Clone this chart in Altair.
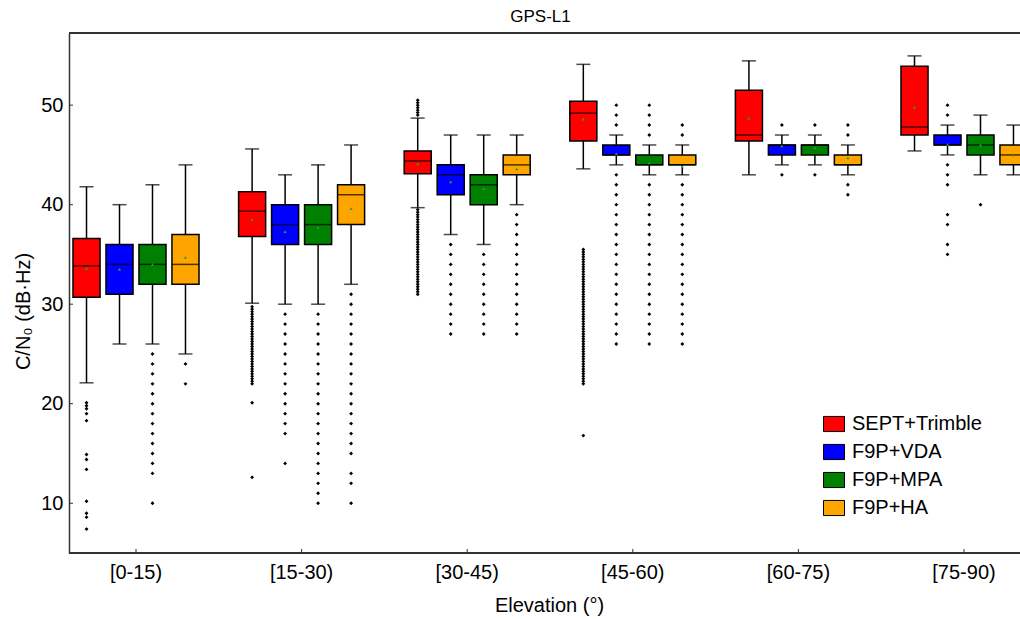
import altair as alt
import pandas as pd

elevations = ["[0-15)", "[15-30)", "[30-45)", "[45-60)", "[60-75)", "[75-90)"]
receivers = ["SEPT+Trimble", "F9P+VDA", "F9P+MPA", "F9P+HA"]
colors = ["#ff0000", "#0000ff", "#008000", "#ffa500"]

# per elevation bin, per receiver
whisker_low = [[22.1, 26, 26, 25], [30.1, 30, 30, 32], [39.7, 37, 36, 40],
               [43.6, 44, 43, 43], [43.0, 44, 44, 43], [45.4, 45, 43, 43]]
q1 = [[30.7, 31, 32, 32], [36.8, 36, 36, 38], [43.1, 41, 40, 43],
      [46.4, 45, 44, 44], [46.4, 45, 45, 44], [47.0, 46, 45, 44]]
median = [[33.85, 34, 34, 34], [39.35, 38, 38, 41], [44.4, 43, 42, 44],
          [49.2, 45, 44, 44], [47.0, 46, 46, 44], [47.8, 46, 46, 45]]
q3 = [[36.6, 36, 36, 37], [41.3, 40, 40, 42], [45.4, 44, 43, 45],
      [50.4, 46, 45, 45], [51.5, 46, 46, 45], [53.9, 47, 47, 46]]
whisker_high = [[41.8, 40, 42, 44], [45.6, 43, 44, 46], [48.7, 47, 47, 47],
                [54.1, 47, 46, 46], [54.45, 47, 47, 46], [54.95, 48, 49, 48]]
means = [[33.6, 33.5, 34.0, 34.7], [38.5, 37.3, 37.7, 39.6], [44.1, 42.3, 41.6, 43.6],
         [48.6, 45.1, 44.2, 43.8], [48.7, 45.9, 45.7, 44.7], [49.8, 46.05, 46.0, 45.0]]

outliers = [
    [  # [0-15)
        [20.1, 19.8, 19.5, 19.0, 18.3, 14.9, 14.4, 13.4, 10.2, 9.0, 8.6, 7.4],
        [],
        [25, 24, 23, 22, 21, 20, 19, 18, 17, 16, 15, 14, 13, 10],
        [24, 22],
    ],
    [  # [15-30)
        [29.75, 29.5, 29.25, 29.0, 28.75, 28.5, 28.25, 28.0, 27.75, 27.5, 27.25, 27.0,
         26.75, 26.5, 26.25, 26.0, 25.75, 25.5, 25.25, 25.0, 24.75, 24.5, 24.25, 24.0,
         23.75, 23.5, 23.25, 23.0, 22.75, 22.5, 22.25, 22.0, 20.1, 12.6],
        [29, 28, 27, 26, 25, 24, 23, 22, 21, 20, 19, 18, 17, 14],
        [29, 28, 27, 26, 25, 24, 23, 22, 21, 20, 19, 18, 17, 16, 15, 14, 13, 12, 11, 10],
        [31, 30, 29, 28, 27, 26, 25, 24, 23, 22, 21, 20, 19, 18, 17, 16, 15, 13, 12, 10],
    ],
    [  # [30-45)
        [49.0, 49.25, 49.5, 49.75, 50.0, 50.25, 50.5,
         39.5, 39.25, 39.0, 38.75, 38.5, 38.25, 38.0, 37.75, 37.5, 37.25, 37.0, 36.75,
         36.5, 36.25, 36.0, 35.75, 35.5, 35.25, 35.0, 34.75, 34.5, 34.25, 34.0, 33.75,
         33.5, 33.25, 33.0, 32.75, 32.5, 32.25, 32.0, 31.75, 31.5, 31.25, 31.0],
        [36, 35, 34, 33, 32, 31, 30, 29, 28, 27],
        [35, 34, 33, 32, 31, 30, 29, 28, 27],
        [39, 38, 37, 36, 35, 34, 33, 32, 31, 30, 29, 28, 27],
    ],
    [  # [45-60)
        [35.5, 35.25, 35.0, 34.75, 34.5, 34.25, 34.0, 33.75, 33.5, 33.25, 33.0, 32.75,
         32.5, 32.25, 32.0, 31.75, 31.5, 31.25, 31.0, 30.75, 30.5, 30.25, 30.0, 29.75,
         29.5, 29.25, 29.0, 28.75, 28.5, 28.25, 28.0, 27.75, 27.5, 27.25, 27.0, 26.75,
         26.5, 26.25, 26.0, 25.75, 25.5, 25.25, 25.0, 24.75, 24.5, 24.25, 24.0, 23.75,
         23.5, 23.25, 23.0, 22.75, 22.5, 22.25, 22.0, 16.8],
        [50, 49, 48, 43, 42, 41, 40, 39, 38, 37, 36, 35, 34, 33, 32, 31, 30, 29, 28, 27, 26],
        [50, 49, 48, 47, 42, 41, 40, 39, 38, 37, 36, 35, 34, 33, 32, 31, 30, 29, 28, 27, 26],
        [48, 47, 42, 41, 40, 39, 38, 37, 36, 35, 34, 33, 32, 31, 30, 29, 28, 27, 26],
    ],
    [  # [60-75)
        [],
        [48, 43],
        [48, 43],
        [48, 47, 42, 41],
    ],
    [  # [75-90)
        [],
        [50, 49, 44, 43, 42, 39, 38, 36, 35],
        [40],
        [],
    ],
]

y_ticks = [10, 20, 30, 40, 50]

box_rows, out_rows = [], []
for i, e in enumerate(elevations):
    for j, r in enumerate(receivers):
        box_rows.append(dict(elev=e, rec=r, lo=whisker_low[i][j], q1=q1[i][j],
                             med=median[i][j], q3=q3[i][j], hi=whisker_high[i][j],
                             mean=means[i][j]))
        for v in outliers[i][j]:
            out_rows.append(dict(elev=e, rec=r, v=v))
box_df = pd.DataFrame(box_rows)
out_df = pd.DataFrame(out_rows)
tick_df = pd.DataFrame({"t": y_ticks})
elev_df = pd.DataFrame({"elev": elevations})

W, H = 951, 520
FONT = "Liberation Sans"
AX = "#333333"

xscale = alt.Scale(domain=elevations, range=[-15.8, 977.8], paddingInner=0, paddingOuter=0)
x_enc = alt.X("elev:N", scale=xscale, sort=elevations,
              axis=alt.Axis(title="Elevation (°)", labelAngle=0, domain=False, ticks=False,
                            tickSize=0, labelPadding=9, labelFontSize=20, titleFontSize=20,
                            titleFontWeight="normal", labelFont=FONT, titleFont=FONT,
                            labelColor="black", titleColor="black", grid=False,
                            titleX=480, titleY=52, titleBaseline="middle"))
xo_enc = alt.XOffset("rec:N", sort=receivers,
                     scale=alt.Scale(domain=receivers, paddingInner=0.18, paddingOuter=0.6))
yscale = alt.Scale(domain=[5, 57.25], nice=False, zero=False)
y_axis = alt.Axis(title="C/N₀ (dB·Hz)", values=y_ticks, grid=False, ticks=False, tickSize=0,
                  labelPadding=6, labelFontSize=20, titleFontSize=20, titleFontWeight="normal",
                  labelFont=FONT, titleFont=FONT, labelColor="black", titleColor="black",
                  domainColor=AX, domainWidth=1.5, titleX=-46, titleY=278,
                  titleBaseline="middle", titleAngle=-90)

base = alt.Chart(box_df)

whisk = base.mark_rule(color="black", strokeWidth=1.5).encode(
    x=x_enc, xOffset=xo_enc,
    y=alt.Y("lo:Q", scale=yscale, axis=y_axis), y2="hi:Q")
cap_lo = base.mark_tick(color="black", size=14, thickness=1.5, orient="horizontal").encode(
    x=x_enc, xOffset=xo_enc, y=alt.Y("lo:Q", scale=yscale))
cap_hi = base.mark_tick(color="black", size=14, thickness=1.5, orient="horizontal").encode(
    x=x_enc, xOffset=xo_enc, y=alt.Y("hi:Q", scale=yscale))
boxes = base.mark_bar(stroke="black", strokeWidth=1.5, opacity=1).encode(
    x=x_enc, xOffset=xo_enc, y=alt.Y("q1:Q", scale=yscale), y2="q3:Q",
    color=alt.Color("rec:N", sort=receivers,
                    scale=alt.Scale(domain=receivers, range=colors),
                    legend=alt.Legend(title=None, orient="none", legendX=754, legendY=380,
                                      symbolType="M-1,-0.72L1,-0.72L1,0.72L-1,0.72Z",
                                      symbolSize=441, symbolStrokeColor="black",
                                      symbolStrokeWidth=1, symbolOpacity=1,
                                      labelFontSize=20, labelFont=FONT, labelColor="black",
                                      labelOffset=7, rowPadding=7, padding=0)))
med = base.mark_tick(color="black", size=27, thickness=1.5, orient="horizontal").encode(
    x=x_enc, xOffset=xo_enc, y=alt.Y("med:Q", scale=yscale))
mean_pts = base.mark_point(shape="triangle-up", filled=True, color="#2ca02c", size=10,
                           opacity=1).encode(
    x=x_enc, xOffset=xo_enc, y=alt.Y("mean:Q", scale=yscale))
outs = alt.Chart(out_df).mark_point(shape="diamond", filled=True, color="black", size=15,
                                    opacity=1).encode(
    x=x_enc, xOffset=xo_enc, y=alt.Y("v:Q", scale=yscale))

ytick_marks = alt.Chart(tick_df).mark_rule(color=AX, strokeWidth=1).encode(
    y=alt.Y("t:Q", scale=yscale), x=alt.value(0), x2=alt.value(4))
xtick_marks = alt.Chart(elev_df).mark_rule(color=AX, strokeWidth=1).encode(
    x=x_enc, y=alt.value(H), y2=alt.value(H - 4))
top_line = alt.Chart(elev_df).mark_rule(color=AX, strokeWidth=1.5).encode(
    x=alt.value(0), x2=alt.value(W + 20), y=alt.value(0))
bottom_line = alt.Chart(elev_df).mark_rule(color=AX, strokeWidth=1.5).encode(
    x=alt.value(0), x2=alt.value(W + 20), y=alt.value(H))

chart = alt.layer(whisk, cap_lo, cap_hi, boxes, med, mean_pts, outs,
                  ytick_marks, xtick_marks, top_line, bottom_line).properties(
    width=W, height=H,
    title=alt.TitleParams("GPS-L1", fontSize=17, fontWeight="normal", font=FONT,
                          color="black", offset=6, dx=-4),
    autosize=alt.AutoSizeParams(type="none"),
    padding={"left": 69, "top": 33, "right": 0, "bottom": 66},
).configure_view(stroke=None).configure(background="white")

chart.save("out.html", embed_options={"renderer": "svg", "actions": False})
